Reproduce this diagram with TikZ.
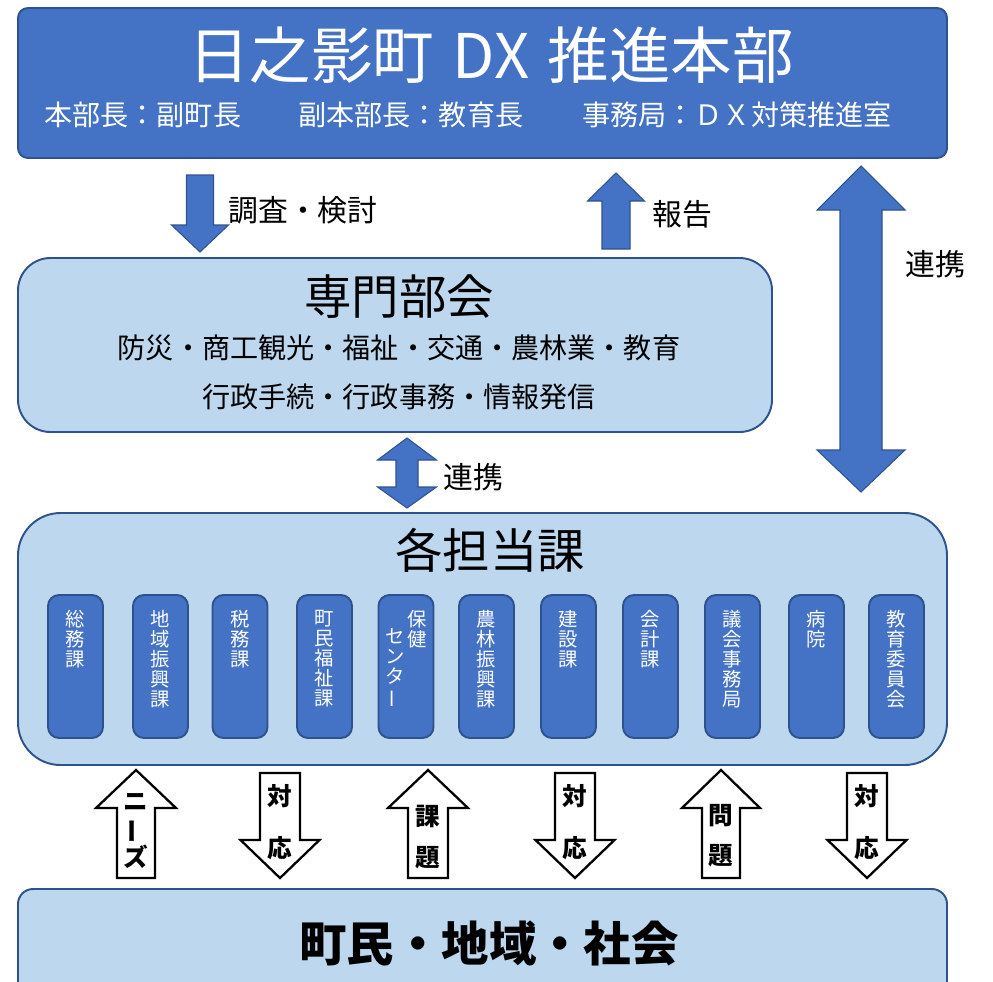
\documentclass[tikz,border=0pt]{standalone}
\usepackage{fontspec}
\setmainfont{Noto Sans CJK JP}
\usetikzlibrary{positioning}

\definecolor{hqblue}{HTML}{4472C4}
\definecolor{lineblue}{HTML}{2F528F}
\definecolor{paleblue}{HTML}{BDD7EE}

% vertical long vowel mark
\newcommand{\tatebo}{\rotatebox[origin=c]{90}{ー}}

% block arrows: centre x, y values, half head width, half shaft width, style
\newcommand{\arrowup}[7]{%
  \draw[#7] (#1,#2) -- (#1+#5,#3) -- (#1+#6,#3) -- (#1+#6,#4)
    -- (#1-#6,#4) -- (#1-#6,#3) -- (#1-#5,#3) -- cycle;}
\newcommand{\arrowdown}[7]{%
  \draw[#7] (#1-#6,#2) -- (#1+#6,#2) -- (#1+#6,#3) -- (#1+#5,#3)
    -- (#1,#4) -- (#1-#5,#3) -- (#1-#6,#3) -- cycle;}
\newcommand{\arrowboth}[8]{%
  \draw[#8] (#1,#2) -- (#1+#6,#3) -- (#1+#7,#3) -- (#1+#7,#4) -- (#1+#6,#4)
    -- (#1,#5) -- (#1-#6,#4) -- (#1-#7,#4) -- (#1-#7,#3) -- (#1-#6,#3) -- cycle;}

\tikzset{
  darkbox/.style={draw=lineblue, line width=1.1pt, fill=hqblue, rounded corners=2mm},
  palebox/.style={draw=lineblue, line width=1.1pt, fill=paleblue},
  kabox/.style={darkbox, rounded corners=2.2mm, minimum width=11mm, minimum height=28.6mm},
  katext/.style={inner sep=0pt, text=white, align=center, font=\fontsize{11}{11.4}\selectfont},
  bluearrow/.style={draw=lineblue, line width=0.6pt, fill=hqblue},
  whitearrow/.style={draw=black, line width=1.3pt, fill=white, line join=miter},
  sidetext/.style={inner sep=0pt, font=\fontsize{17}{20}\selectfont},
  subtext/.style={inner sep=0pt, text=white, font=\fontsize{16}{19}\selectfont},
  headtext/.style={inner sep=0pt, font=\fontsize{27}{31}\selectfont},
  listtext/.style={inner sep=0pt, font=\fontsize{16}{19}\selectfont},
  voicetext/.style={inner sep=0pt, align=center, font=\bfseries\fontsize{14}{15.4}\selectfont}
}

\begin{document}
\begin{tikzpicture}[x=0.2mm, y=-0.2mm]
    \useasboundingbox (0,0) rectangle (993,981);

    % DX headquarters
    \node[darkbox, minimum width=185.8mm, minimum height=30mm] (hq) at (482.5,83) {};
    \node[inner sep=0pt, text=white, font=\fontsize{35}{40}\selectfont] (hqtitle) at (491,55)
        {日之影町\hspace{0.3em}DX\hspace{0.3em}推進本部};
    \node[subtext, anchor=west] (chief) at (44,115) {本部長：副町長};
    \node[subtext, anchor=west] (vicechief) at (298,115) {副本部長：教育長};
    \node[subtext, anchor=west] (office) at (582,115) {事務局：ＤＸ対策推進室};

    % specialist committee
    \node[palebox, rounded corners=6.5mm, minimum width=150.8mm, minimum height=34.8mm] (bukai) at (395,345) {};
    \node[headtext] (bukaititle) at (399,297) {専門部会};
    \node[listtext] (bukaiA) at (399,348) {防災・商工観光・福祉・交通・農林業・教育};
    \node[listtext] (bukaiB) at (399,397) {行政手続・行政事務・情報発信};

    % sections
    \node[palebox, rounded corners=8.5mm, minimum width=185.8mm, minimum height=50.4mm] (kaku) at (482.5,639) {};
    \node[headtext] (kakutitle) at (490,550) {各担当課};

    \foreach \x/\txt [count=\i] in {75.5/{総\\務\\課}, 160.5/{地\\域\\振\\興\\課}, 240/{税\\務\\課},
        324.5/{町\\民\\福\\祉\\課}, 406/{}, 486.5/{農\\林\\振\\興\\課}, 568.5/{建\\設\\課},
        650.5/{会\\計\\課}, 732.5/{議\\会\\事\\務\\局}, 816.5/{病\\院}, 896.5/{教\\育\\委\\員\\会}} {
        \node[kabox] (ka\i) at (\x,666.5) {};
        \node[katext, below=3.2mm of ka\i.north] (kat\i) {\txt};
    }
    \node[katext, below=3.2mm of ka5.north, xshift=2.2mm] (hoken) {保\\健};
    \node[katext, below=6.8mm of ka5.north, xshift=-2.2mm] (center) {セ\\ン\\タ\\\tatebo};

    % residents
    \node[palebox, rounded corners=3mm, minimum width=185.8mm, minimum height=22.2mm] (chomin) at (482.5,944.5) {};
    \node[inner sep=0pt, font=\bfseries\fontsize{27}{32}\selectfont] (chomintext) at (489,943) {町民・地域・社会};

    % blue arrows
    \arrowdown{200}{175}{225}{252}{28.5}{13.5}{bluearrow}
    \node[sidetext, anchor=west] (chosa) at (228,210) {調査・検討};
    \arrowup{616}{173}{201}{249}{28.5}{14}{bluearrow}
    \node[sidetext, anchor=west] (hokoku) at (652,214) {報告};
    \arrowboth{861}{166}{210}{450}{492}{44}{21}{bluearrow}
    \node[sidetext, anchor=west] (renkeiA) at (905,264) {連携};
    \arrowboth{407}{438}{460}{487}{508}{29.5}{11}{bluearrow}
    \node[sidetext, anchor=west] (renkeiB) at (443,477) {連携};

    % voices of residents and answers
    \arrowup{136}{770}{808}{878}{40}{19}{whitearrow}
    \node[voicetext] (needs) at (136,831) {ニ\\\tatebo\\ズ};
    \arrowup{428}{770}{808}{878}{40}{20}{whitearrow}
    \node[voicetext] (kadai) at (428,837) {課\\[7.5pt]題};
    \arrowup{721}{770}{808}{878}{39}{19}{whitearrow}
    \node[voicetext] (mondai) at (721,836) {問\\[7.5pt]題};
    \foreach \x [count=\j] in {280,575,867} {
        \arrowdown{\x}{773}{840}{878}{39.5}{20}{whitearrow}
        \node[voicetext] (taio\j) at (\x,822) {対\\[14.6pt]応};
    }
\end{tikzpicture}
\end{document}
